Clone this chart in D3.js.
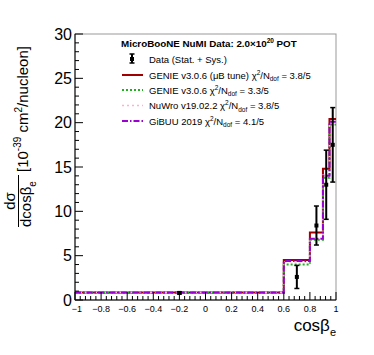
<!DOCTYPE html>
<html>
<head>
<meta charset="utf-8">
<script src="https://cdn.jsdelivr.net/npm/d3@7"></script>
<style>
    body { margin: 0; background: #fff; }
    svg text { font-family: "Liberation Sans", Arial, sans-serif; }
</style>
</head>
<body>
<svg id="chart" width="374" height="355"></svg>
<script>
// bin edges in cos(beta_e)
const binEdges = [-1, 0.6, 0.8, 0.9, 0.95, 1];
const dataValues = [0.8, 2.6, 8.4, 13.0, 17.5];
const dataErrors = [0.12, 1.3, 2.2, 3.9, 4.2];
const genieTune = [0.85, 4.5, 7.6, 14.8, 20.4];
const genie = [0.8, 4.0, 6.8, 13.8, 19.8];
const nuwro = [0.85, 4.3, 6.9, 14.1, 20.0];
const gibuu = [0.85, 4.4, 6.9, 14.0, 20.1];
const xTicks = [-1, -0.8, -0.6, -0.4, -0.2, 0, 0.2, 0.4, 0.6, 0.8, 1];
const yTicks = [0, 5, 10, 15, 20, 25, 30];

const svg = d3.select("#chart");
const padLeft = 75, padRight = 336, padTop = 34, padBottom = 300;

let x = d3.scaleLinear().domain([-1, 1]).range([padLeft, padRight]);
let y = d3.scaleLinear().domain([0, 30]).range([padBottom, padTop]);

// frame
svg.append("rect")
    .attr("x", padLeft).attr("y", padTop)
    .attr("width", padRight - padLeft).attr("height", padBottom - padTop)
    .attr("fill", "none").attr("stroke", "#999").attr("stroke-width", 1);

// model histograms
const models = [
    {values: genieTune, color: "#a00000", width: 2, dash: null},
    {values: genie, color: "#20b020", width: 2, dash: "2,2"},
    {values: nuwro, color: "#ffb0d0", width: 1.5, dash: "2,3"},
    {values: gibuu, color: "#9a00d0", width: 2, dash: "6,2,1.5,2"}
];

function stepLine(values) {
    let pts = [];
    values.forEach((v, i) => {
        pts.push([binEdges[i], v]);
        pts.push([binEdges[i + 1], v]);
    });
    return d3.line().x(d => x(d[0])).y(d => y(d[1]))(pts);
}

svg.selectAll(".model")
    .data(models)
    .enter()
    .append("path")
    .attr("class", "model")
    .attr("d", d => stepLine(d.values))
    .attr("fill", "none")
    .attr("stroke", d => d.color)
    .attr("stroke-width", d => d.width)
    .attr("stroke-dasharray", d => d.dash);

// data points
let points = dataValues.map((v, i) => {
    return {x: (binEdges[i] + binEdges[i + 1]) / 2, v: v, e: dataErrors[i]};
});
let pg = svg.append("g");
points.forEach(p => {
    pg.append("line")
        .attr("x1", x(p.x)).attr("x2", x(p.x))
        .attr("y1", y(p.v - p.e)).attr("y2", y(p.v + p.e))
        .attr("stroke", "#000").attr("stroke-width", 2);
    [p.v - p.e, p.v + p.e].forEach(e => {
        pg.append("line")
            .attr("x1", x(p.x) - 2.5).attr("x2", x(p.x) + 2.5)
            .attr("y1", y(e)).attr("y2", y(e))
            .attr("stroke", "#000").attr("stroke-width", 1.5);
    });
    pg.append("rect")
        .attr("x", x(p.x) - 2).attr("y", y(p.v) - 2)
        .attr("width", 4).attr("height", 4)
        .attr("fill", "#000");
});

// axes
let axisG = svg.append("g");
axisG.append("line").attr("x1", padLeft).attr("x2", padRight).attr("y1", padBottom).attr("y2", padBottom)
    .attr("stroke", "#000");
axisG.append("line").attr("x1", padLeft).attr("x2", padLeft).attr("y1", padTop).attr("y2", padBottom)
    .attr("stroke", "#000");

d3.range(0, 31, 1).forEach(v => {
    let len = v % 5 === 0 ? 8 : 4;
    axisG.append("line")
        .attr("x1", padLeft).attr("x2", padLeft + len)
        .attr("y1", y(v)).attr("y2", y(v))
        .attr("stroke", "#000");
});
d3.range(0, 51, 1).forEach(k => {
    let v = -1 + k * 0.04;
    let len = k % 5 === 0 ? 8 : 4;
    axisG.append("line")
        .attr("x1", x(v)).attr("x2", x(v))
        .attr("y1", padBottom).attr("y2", padBottom - len)
        .attr("stroke", "#000");
});

svg.selectAll(".ylabel")
    .data(yTicks)
    .enter()
    .append("text")
    .attr("class", "ylabel")
    .attr("x", padLeft - 3)
    .attr("y", d => y(d) + 5.5)
    .attr("text-anchor", "end")
    .attr("font-size", 16)
    .text(d => d);

svg.selectAll(".xlabel")
    .data(xTicks)
    .enter()
    .append("text")
    .attr("class", "xlabel")
    .attr("x", d => d === -1 ? x(d) + 2 : x(d))
    .attr("y", padBottom + 12)
    .attr("text-anchor", "middle")
    .attr("font-size", 9)
    .text(d => d < 0 ? "\u2212" + Math.abs(d) : d);

// x title
let xt = svg.append("text")
    .attr("x", padRight)
    .attr("y", 331)
    .attr("text-anchor", "end")
    .attr("font-size", 17);
xt.append("tspan").text("cos\u03b2");
xt.append("tspan").attr("font-size", 11).attr("dy", 5).text("e");

// y title (rotated)
let yt = svg.append("g").attr("transform", "rotate(-90)");
yt.append("text")
    .attr("x", -201).attr("y", 15)
    .attr("text-anchor", "middle")
    .attr("font-size", 15)
    .text("d\u03c3");
yt.append("line")
    .attr("x1", -227).attr("x2", -175)
    .attr("y1", 18.5).attr("y2", 18.5)
    .attr("stroke", "#000").attr("stroke-width", 1);
let den = yt.append("text")
    .attr("x", -227).attr("y", 31)
    .attr("font-size", 15);
den.append("tspan").text("dcos\u03b2");
den.append("tspan").attr("font-size", 10).attr("dy", 5).text("e");
let unit = yt.append("text")
    .attr("x", -172).attr("y", 28)
    .attr("font-size", 15);
unit.append("tspan").text("[10");
unit.append("tspan").attr("font-size", 10).attr("dy", -7).text("-39");
unit.append("tspan").attr("dy", 7).text(" cm");
unit.append("tspan").attr("font-size", 10).attr("dy", -6).text("2");
unit.append("tspan").attr("dy", 6).text("/nucleon]");

// legend
let lg = svg.append("g").attr("font-size", 9.5);
let title = lg.append("text")
    .attr("x", 121).attr("y", 47)
    .attr("font-weight", "bold")
    .attr("font-size", 9.8);
title.append("tspan").text("MicroBooNE NuMI Data: 2.0\u00d710");
title.append("tspan").attr("font-size", 6.5).attr("dy", -4).text("20");
title.append("tspan").attr("dy", 4).text(" POT");

const legendRows = [59, 75, 90, 105.5, 121];
const legendNames = ["GENIE v3.0.6 (\u03bcB tune) ", "GENIE v3.0.6 ", "NuWro v19.02.2 ", "GiBUU 2019 "];
const legendChi = ["3.8/5", "3.3/5", "3.8/5", "4.1/5"];

// data entry
let ly0 = legendRows[0];
lg.append("line").attr("x1", 132).attr("x2", 132).attr("y1", ly0 - 5).attr("y2", ly0 + 4)
    .attr("stroke", "#000").attr("stroke-width", 2);
[ly0 - 5, ly0 + 4].forEach(e => {
    lg.append("line").attr("x1", 129.5).attr("x2", 134.5).attr("y1", e).attr("y2", e)
        .attr("stroke", "#000").attr("stroke-width", 1.5);
});
lg.append("rect").attr("x", 130).attr("y", ly0 - 2).attr("width", 4).attr("height", 4).attr("fill", "#000");
lg.append("text").attr("x", 149).attr("y", ly0 + 3.5).text("Data (Stat. + Sys.)");

models.forEach((m, i) => {
    let ly = legendRows[i + 1];
    lg.append("line")
        .attr("x1", 122).attr("x2", 143)
        .attr("y1", ly).attr("y2", ly)
        .attr("stroke", m.color)
        .attr("stroke-width", m.width)
        .attr("stroke-dasharray", m.dash);
    let t = lg.append("text").attr("x", 149).attr("y", ly + 3.5);
    t.append("tspan").text(legendNames[i] + "\u03c7");
    t.append("tspan").attr("font-size", 6.5).attr("dy", -4).text("2");
    t.append("tspan").attr("dy", 4).text("/N");
    t.append("tspan").attr("font-size", 6.5).attr("dy", 2.5).text("dof");
    t.append("tspan").attr("dy", -2.5).text(" = " + legendChi[i]);
});
</script>
</body>
</html>
